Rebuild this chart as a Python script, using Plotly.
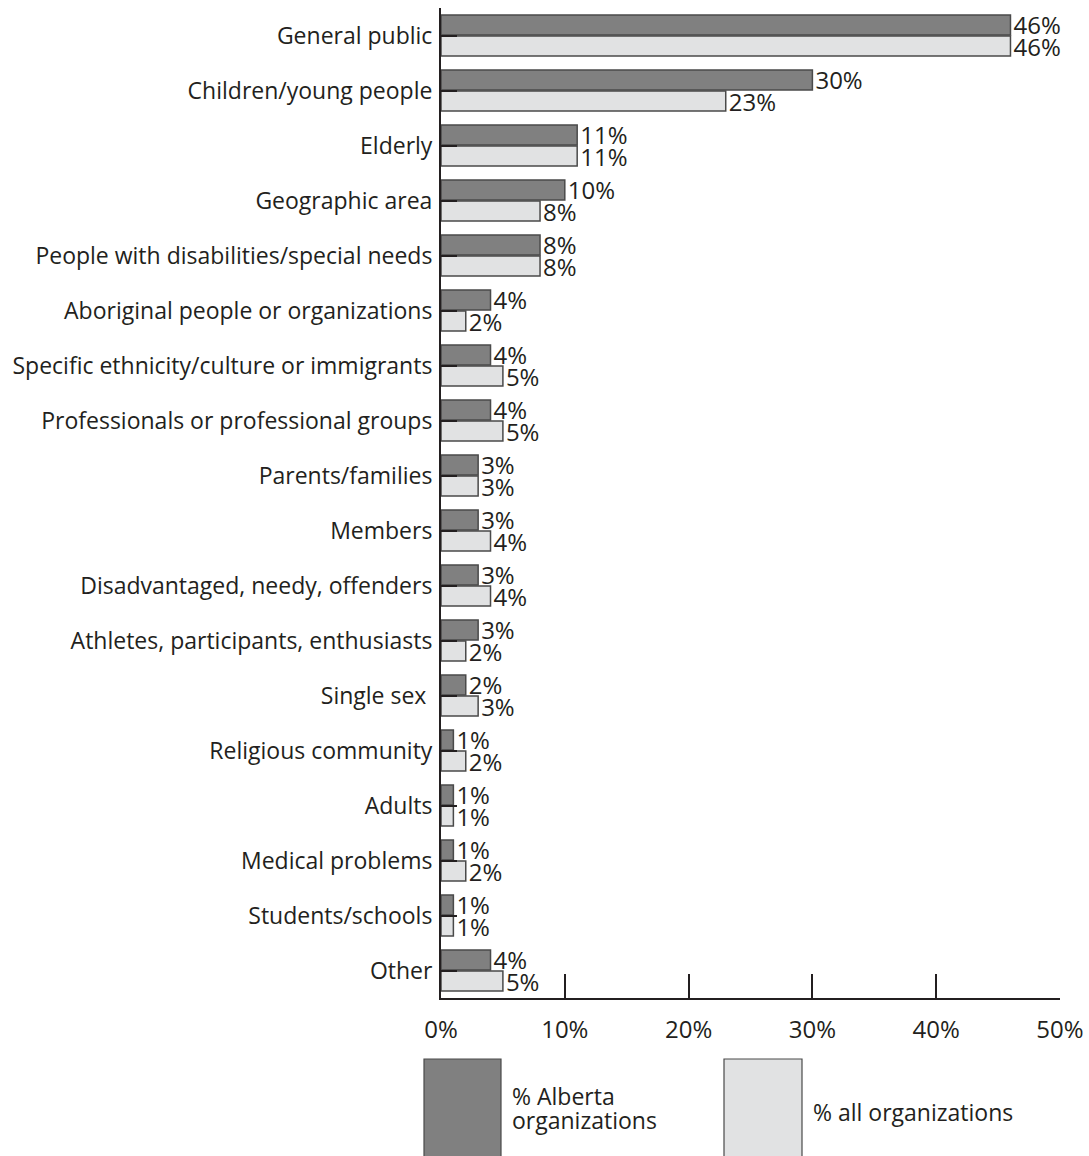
import plotly.graph_objects as go

# Beneficiary groups served, share of organizations
categories = [
    "General public",
    "Children/young people",
    "Elderly",
    "Geographic area",
    "People with disabilities/special needs",
    "Aboriginal people or organizations",
    "Specific ethnicity/culture or immigrants",
    "Professionals or professional groups",
    "Parents/families",
    "Members",
    "Disadvantaged, needy, offenders",
    "Athletes, participants, enthusiasts",
    "Single sex ",
    "Religious community",
    "Adults",
    "Medical problems",
    "Students/schools",
    "Other",
]
alberta_pct = [46, 30, 11, 10, 8, 4, 4, 4, 3, 3, 3, 3, 2, 1, 1, 1, 1, 4]
all_pct = [46, 23, 11, 8, 8, 2, 5, 5, 3, 4, 4, 2, 3, 2, 1, 2, 1, 5]

x_ticks = [0, 10, 20, 30, 40, 50]
x_tick_labels = ["0%", "10%", "20%", "30%", "40%", "50%"]

series_names = ["% Alberta organizations", "% all organizations"]

FONT = "Open Sans"
INK = "#231f20"
DARK = "#808080"
LIGHT = "#e1e2e3"
EDGE = "#4a4a4a"

W, H = 1089, 1156
ML, MR, MT, MB = 441, 29, 8, 158
PW = W - ML - MR
PH = H - MT - MB


def px_x(px):
    return (px - ML) / PW


def px_y(py):
    return (H - MB - py) / PH


fig = go.Figure()
for vals, color, name in [(alberta_pct, DARK, series_names[0]),
                          (all_pct, LIGHT, series_names[1])]:
    fig.add_trace(go.Bar(
        y=categories,
        x=vals,
        orientation="h",
        name=name,
        marker=dict(color=color, line=dict(color=EDGE, width=1.5)),
        text=[f"{v}%" for v in vals],
        textposition="outside",
        constraintext="none",
        cliponaxis=False,
        textfont=dict(family=FONT, size=24, color=INK),
        showlegend=False,
    ))

fig.update_layout(
    width=W,
    height=H,
    margin=dict(l=ML, r=MR, t=MT, b=MB, pad=0, autoexpand=False),
    paper_bgcolor="white",
    plot_bgcolor="white",
    barmode="group",
    bargap=0.236,
    bargroupgap=0.05,
    font=dict(family=FONT, size=23, color=INK),
)

fig.update_xaxes(
    range=[0, 50],
    tickvals=x_ticks,
    ticktext=x_tick_labels,
    ticks="inside",
    ticklen=24,
    tickwidth=2,
    tickcolor=INK,
    showline=True,
    linewidth=2,
    linecolor=INK,
    showgrid=False,
    zeroline=False,
    automargin=False,
    ticklabelstandoff=9,
    tickfont=dict(family=FONT, size=24, color=INK),
)

fig.update_yaxes(
    autorange="reversed",
    ticks="inside",
    ticklen=16,
    tickwidth=2,
    tickcolor=INK,
    showline=True,
    linewidth=2,
    linecolor=INK,
    showgrid=False,
    zeroline=False,
    automargin=False,
    ticklabelstandoff=2,
    tickfont=dict(family=FONT, size=23, color=INK),
)

# Legend drawn as large swatches with captions below the axis
swatches = [(424, 501, DARK), (724, 802, LIGHT)]
for x0, x1, color in swatches:
    fig.add_shape(
        type="rect", xref="paper", yref="paper",
        x0=px_x(x0), x1=px_x(x1), y0=px_y(1059), y1=px_y(1170),
        fillcolor=color, line=dict(color=EDGE, width=1.2), layer="above",
    )

captions = [
    ("% Alberta", 510, 1096),
    ("organizations", 510, 1120),
    ("% all organizations", 811, 1112),
]
for txt, x, y in captions:
    fig.add_annotation(
        text=txt, xref="paper", yref="paper",
        x=px_x(x), y=px_y(y), xanchor="left", yanchor="middle",
        showarrow=False, font=dict(family=FONT, size=23, color=INK),
    )

fig.write_html("out.html")
